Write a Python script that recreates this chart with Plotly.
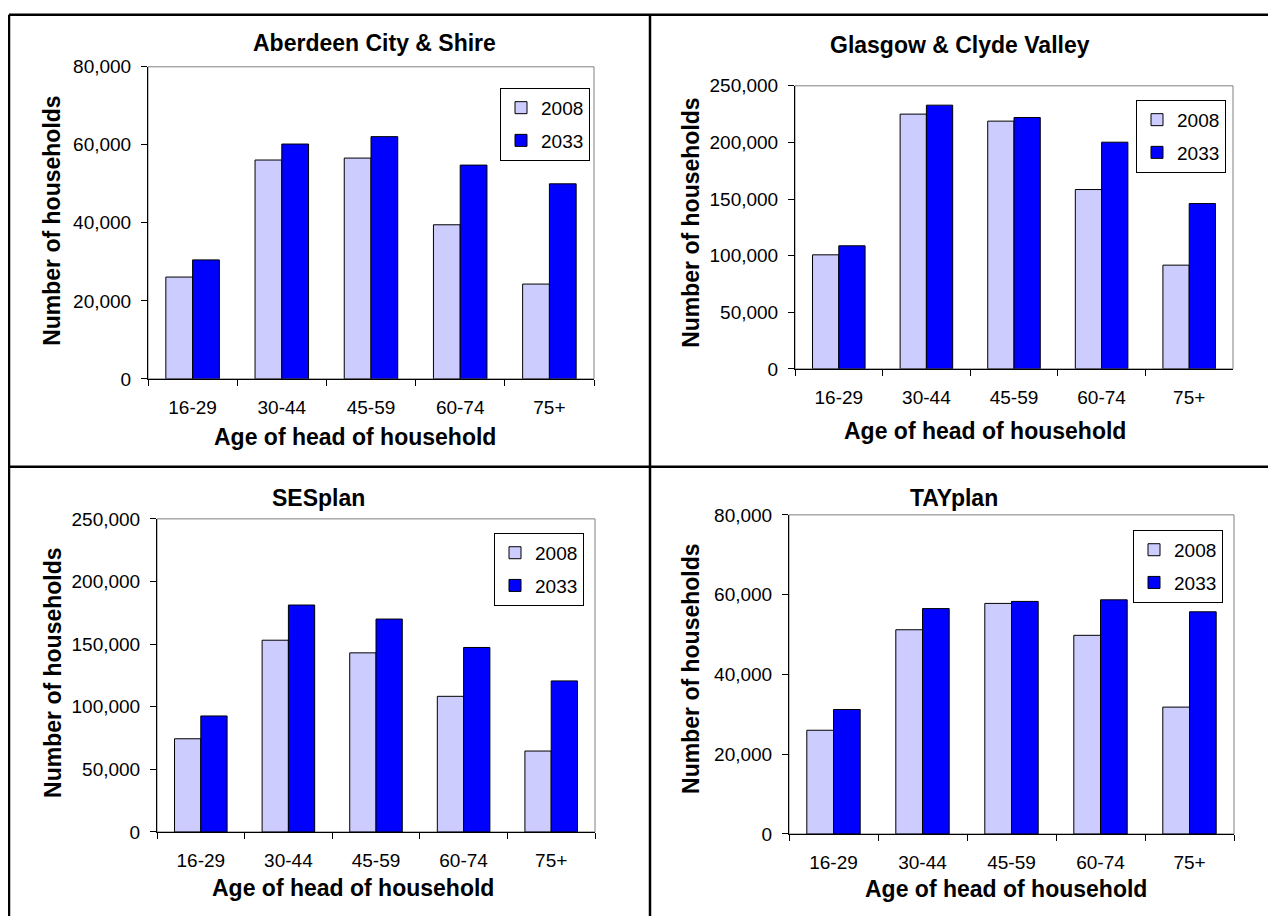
import plotly.graph_objects as go

ages = ["16-29", "30-44", "45-59", "60-74", "75+"]
years = ["2008", "2033"]

aberdeen_2008 = [26100, 56100, 56600, 39500, 24300]
aberdeen_2033 = [30500, 60200, 62100, 54800, 50000]
glasgow_2008 = [100700, 225000, 218800, 158400, 91600]
glasgow_2033 = [108700, 232900, 222000, 200200, 146000]
sesplan_2008 = [74400, 153100, 143000, 108300, 64600]
sesplan_2033 = [92600, 181200, 170000, 147300, 120600]
tayplan_2008 = [26000, 51200, 57800, 49800, 31800]
tayplan_2033 = [31200, 56500, 58300, 58700, 55700]

titles = ["Aberdeen City & Shire", "Glasgow & Clyde Valley", "SESplan", "TAYplan"]
y_max = [80000, 250000, 250000, 80000]
y_step = [20000, 50000, 50000, 20000]

# placement is given in window pixels; the page puts the plot div a little
# down and to the right, and the photo comes out slightly squashed vertically
W, H = 1268, 919
OFF_X, OFF_Y, SY = 8, 18.2, 0.977
FONT = "Liberation Sans, Arial, sans-serif"
COLORS = {"2008": "#CCCCFF", "2033": "#0000FF"}


def fx(px):
    return (px - OFF_X) / W


def fy(py):
    return 1 - (py - OFF_Y) / SY / H


# window-pixel boxes of the plot areas: left, top, right, bottom
boxes = [
    (148, 67, 594, 379),
    (795, 86, 1233, 369),
    (157, 519, 595, 832),
    (789, 515, 1234, 834),
]
# legend top-left corners
legend_pos = [(500, 88), (1136, 100), (494, 533), (1133, 530)]
# title centre, x title centre, y title centre
title_pos = [(375, 43), (960, 45), (318, 498), (954, 498)]
xtitle_pos = [(355, 437), (985, 431), (353, 888), (1006, 889)]
ytitle_pos = [(52, 221), (691, 223), (53, 673), (691, 669)]

series = [
    (aberdeen_2008, aberdeen_2033),
    (glasgow_2008, glasgow_2033),
    (sesplan_2008, sesplan_2033),
    (tayplan_2008, tayplan_2033),
]

fig = go.Figure()
layout = {}
shapes = []
annotations = []

for i, (s08, s33) in enumerate(series):
    n = "" if i == 0 else str(i + 1)
    leg = "legend" + n
    for year, vals in zip(years, (s08, s33)):
        fig.add_trace(go.Bar(
            x=ages, y=vals, name=year,
            xaxis="x" + n, yaxis="y" + n,
            legend=leg, legendgroup=year + n,
            marker=dict(color=COLORS[year], line=dict(color="black", width=1)),
        ))

    l, t, r, b = boxes[i]
    layout["xaxis" + n] = dict(
        domain=[fx(l), fx(r)], anchor="y" + n,
        showline=True, linecolor="black", linewidth=1,
        ticks="outside", ticklen=6, tickcolor="black", tickson="boundaries",
        showgrid=False, tickfont=dict(size=19, color="black"),
        ticklabelstandoff=11,
    )
    layout["yaxis" + n] = dict(
        domain=[fy(b), fy(t)], anchor="x" + n,
        range=[0, y_max[i]], dtick=y_step[i], tickformat=",",
        showline=True, linecolor="black", linewidth=1,
        ticks="outside", ticklen=6, tickcolor="black",
        showgrid=False, zeroline=False, tickfont=dict(size=19, color="black"),
        ticklabelstandoff=6,
    )
    lx, ly = legend_pos[i]
    layout[leg] = dict(
        x=fx(lx), y=fy(ly), xanchor="left", yanchor="top",
        bgcolor="white", bordercolor="black", borderwidth=1,
        font=dict(size=19, color="black"), traceorder="grouped",
        tracegroupgap=5, itemwidth=30,
    )
    # grey frame round the plot area
    shapes.append(dict(type="rect", xref="paper", yref="paper",
                       x0=fx(l), x1=fx(r), y0=fy(b), y1=fy(t),
                       line=dict(color="#808080", width=1), layer="below"))

    tx, ty = title_pos[i]
    annotations.append(dict(text="<b>" + titles[i] + "</b>", x=fx(tx), y=fy(ty),
                            xref="paper", yref="paper", showarrow=False,
                            xanchor="center", yanchor="middle",
                            font=dict(size=23, color="black")))
    ax, ay = xtitle_pos[i]
    annotations.append(dict(text="<b>Age of head of household</b>", x=fx(ax), y=fy(ay),
                            xref="paper", yref="paper", showarrow=False,
                            xanchor="center", yanchor="middle",
                            font=dict(size=23, color="black")))
    vx, vy = ytitle_pos[i]
    annotations.append(dict(text="<b>Number of households</b>", x=fx(vx), y=fy(vy),
                            xref="paper", yref="paper", showarrow=False, textangle=-90,
                            xanchor="center", yanchor="middle",
                            font=dict(size=23, color="black")))

# outer frame and dividers
for x0, y0, x1, y1 in [(9, 15, 9, 916), (9, 15, 1276, 15),
                       (650, 15, 650, 916), (9, 467, 1276, 467)]:
    shapes.append(dict(type="line", xref="paper", yref="paper",
                       x0=fx(x0), y0=fy(y0), x1=fx(x1), y1=fy(y1),
                       line=dict(color="black", width=2.5)))

fig.update_layout(
    **layout,
    shapes=shapes,
    annotations=annotations,
    width=W, height=H,
    margin=dict(l=0, r=0, t=0, b=0),
    paper_bgcolor="white", plot_bgcolor="white",
    font=dict(family=FONT, color="black"),
    barmode="group", bargap=0.4, bargroupgap=0,
)

fig.write_html("out.html")
